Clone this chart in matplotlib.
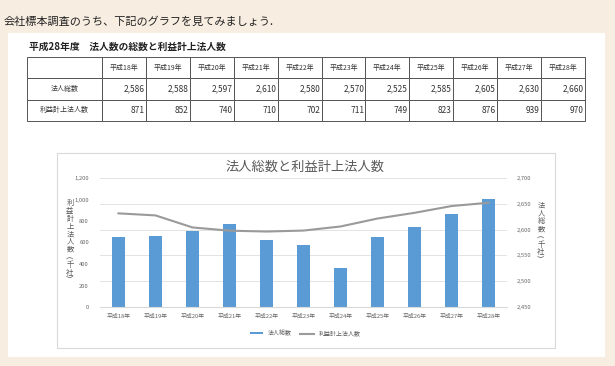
import matplotlib
matplotlib.use("Agg")
import matplotlib.pyplot as plt
from matplotlib.patches import Rectangle
import numpy as np

plt.rcParams['font.family'] = ['Noto Sans CJK JP', 'DejaVu Sans']

years = ["平成18年", "平成19年", "平成20年", "平成21年", "平成22年", "平成23年",
         "平成24年", "平成25年", "平成26年", "平成27年", "平成28年"]
total_corps = [2586, 2588, 2597, 2610, 2580, 2570, 2525, 2585, 2605, 2630, 2660]
profit_corps = [871, 852, 740, 710, 702, 711, 749, 823, 876, 939, 970]
left_ticks = [0, 200, 400, 600, 800, 1000, 1200]
right_ticks = [2450, 2500, 2550, 2600, 2650, 2700]

W, H = 615, 366
BG = "#f7ede1"
fig = plt.figure(figsize=(W / 100, H / 100), dpi=100, facecolor=BG)

def fx(px):
    return px / W

def fy(py):
    return 1 - py / H

# white panel
fig.patches.append(Rectangle((fx(8), fy(357)), fx(605) - fx(8), fy(33) - fy(357),
                             transform=fig.transFigure, facecolor="white",
                             edgecolor="none", zorder=-3))

fig.text(fx(4), fy(22), "会社標本調査のうち、下記のグラフを見てみましょう.",
         fontsize=8, va="center", ha="left", color="#222222")
fig.text(fx(29), fy(47), "平成28年度　法人数の総数と利益計上法人数",
         fontsize=7, fontweight="bold", va="center", ha="left", color="#222222")

# table
ax_t = fig.add_axes([fx(27), fy(121), fx(585) - fx(27), fy(57) - fy(121)])
ax_t.axis("off")
cell_text = [[""] + years,
             ["法人総数"] + [f"{v:,}" for v in total_corps],
             ["利益計上法人数"] + [f"{v:,}" for v in profit_corps]]
first_w = 75
other_w = (585 - 27 - first_w) / len(years)
col_w = [first_w] + [other_w] * len(years)
col_w = [c / sum(col_w) for c in col_w]
tbl = ax_t.table(cellText=cell_text, colWidths=col_w, bbox=[0, 0, 1, 1], cellLoc="center")
tbl.auto_set_font_size(False)
for (r, c), cell in tbl.get_celld().items():
    cell.set_edgecolor("#555555")
    cell.set_linewidth(0.7)
    txt = cell.get_text()
    txt.set_color("#333333")
    if r == 0:
        txt.set_fontsize(5)
    elif c == 0:
        txt.set_fontsize(5)
    else:
        txt.set_fontsize(6)
        cell.set_text_props(ha="right")
        cell.PAD = 0.03
# chart frame
fig.patches.append(Rectangle((fx(57), fy(348)), fx(555) - fx(57), fy(153) - fy(348),
                             transform=fig.transFigure, facecolor="white",
                             edgecolor="#d9d9d9", linewidth=0.8, zorder=-2))

ax = fig.add_axes([fx(100), fy(307), fx(507) - fx(100), fy(178) - fy(307)])
ax2 = ax.twinx()
x = np.arange(len(years))

# bars on right axis
ax2.bar(x, [v - right_ticks[0] for v in total_corps], bottom=right_ticks[0],
        width=0.33, color="#5b9bd5", zorder=2, label="法人総数")
ax2.set_ylim(right_ticks[0], right_ticks[-1])
ax2.set_yticks(right_ticks)
ax2.set_yticklabels([f"{v:,}" for v in right_ticks])
ax2.yaxis.grid(True, color="#e3e3e3", linewidth=0.7, zorder=0)
ax2.set_axisbelow(True)

# line on left axis, drawn above bars
ax.set_zorder(ax2.get_zorder() + 1)
ax.patch.set_visible(False)
ax.plot(x, profit_corps, color="#9a9a9a", linewidth=1.5, zorder=3, label="利益計上法人数")
ax.set_ylim(left_ticks[0], left_ticks[-1])
ax.set_yticks(left_ticks)
ax.set_yticklabels([f"{v:,}" for v in left_ticks])
ax.set_xlim(-0.5, len(years) - 0.5)
ax.set_xticks(x)
ax.set_xticklabels(years)

for a in (ax, ax2):
    for s in a.spines.values():
        s.set_visible(False)
    a.tick_params(length=0, labelsize=4.2, colors="#666666")
ax.spines["bottom"].set_visible(True)
ax.spines["bottom"].set_color("#d9d9d9")
ax.tick_params(axis="y", pad=8)
ax2.tick_params(axis="y", pad=7)
ax.tick_params(axis="x", pad=5)

fig.text(fx(305), fy(167), "法人総数と利益計上法人数", fontsize=9.5,
         ha="center", va="center", color="#595959")

def vertical(s):
    return "\n".join(s)

fig.text(fx(70), fy(242), vertical("利益計上法人数︵千社︶"), fontsize=5.3,
         ha="center", va="center", color="#595959", linespacing=0.95)
fig.text(fx(541), fy(233), vertical("法人総数︵千社︶"), fontsize=5.3,
         ha="center", va="center", color="#595959", linespacing=0.95)

h1, l1 = ax2.get_legend_handles_labels()
h2, l2 = ax.get_legend_handles_labels()
fig.legend(h1 + h2, l1 + l2, loc="center", bbox_to_anchor=(fx(305), fy(333)),
           ncol=2, frameon=False, fontsize=4.3, handlelength=2.2, handleheight=0.3,
           columnspacing=1.5, labelcolor="#595959")

fig.savefig("out.png", dpi=100, facecolor=BG)
